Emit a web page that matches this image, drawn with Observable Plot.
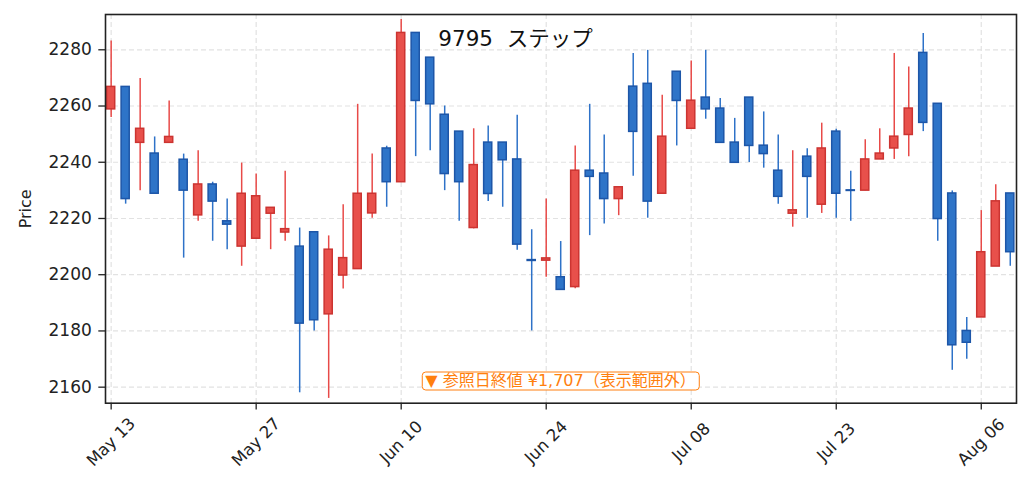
<!DOCTYPE html>
<html>
<head>
<meta charset="utf-8">
<script src="https://cdn.jsdelivr.net/npm/d3@7"></script>
<script src="https://cdn.jsdelivr.net/npm/@observablehq/plot@0.6"></script>
<style>
  html, body { margin: 0; padding: 0; background: #fff; }
  #wrap { position: relative; width: 1031px; height: 492px; font-family: "DejaVu Sans", "Noto Sans CJK JP", sans-serif; }
  #title { position: absolute; left: 515.5px; top: 39px; transform: translate(-50%, -50%); font-size: 21.5px; line-height: 1; color: #111; white-space: pre; }
  #note { position: absolute; left: 560.5px; top: 380.5px; transform: translate(-50%, -50%); font-size: 16px; line-height: 16px; color: #ff7f0e; background: #fff; border: 1.5px solid #ff7f0e; border-radius: 4px; padding: 0.5px 3px; white-space: pre; }
</style>
</head>
<body>
<div id="wrap">
  <div id="chart"></div>
  <div id="title">9795  ステップ</div>
  <div id="note">▼ 参照日終値 ¥1,707（表示範囲外）</div>
</div>
<script>
// Trading days shown (index-based x axis)
const dates = [
  "2024-05-13","2024-05-14","2024-05-15","2024-05-16","2024-05-17",
  "2024-05-20","2024-05-21","2024-05-22","2024-05-23","2024-05-24",
  "2024-05-27","2024-05-28","2024-05-29","2024-05-30","2024-05-31",
  "2024-06-03","2024-06-04","2024-06-05","2024-06-06","2024-06-07",
  "2024-06-10","2024-06-11","2024-06-12","2024-06-13","2024-06-14",
  "2024-06-17","2024-06-18","2024-06-19","2024-06-20","2024-06-21",
  "2024-06-24","2024-06-25","2024-06-26","2024-06-27","2024-06-28",
  "2024-07-01","2024-07-02","2024-07-03","2024-07-04","2024-07-05",
  "2024-07-08","2024-07-09","2024-07-10","2024-07-11","2024-07-12",
  "2024-07-16","2024-07-17","2024-07-18","2024-07-19",
  "2024-07-22","2024-07-23","2024-07-24","2024-07-25","2024-07-26",
  "2024-07-29","2024-07-30","2024-07-31","2024-08-01","2024-08-02",
  "2024-08-05","2024-08-06","2024-08-07","2024-08-08"
];
const open = [
  2258.8,2266.8,2246.9,2243.1,2246.9, 2240.9,2221.1,2232.1,2219.0,2210.0,
  2212.8,2221.7,2215.0,2210.0,2215.1, 2185.9,2199.7,2202.0,2221.8,2244.9,
  2232.9,2286.0,2277.2,2256.9,2250.9, 2216.6,2247.0,2247.0,2241.0,2205.2,
  2205.0,2199.1,2195.6,2237.0,2236.0, 2226.9,2266.9,2267.9,2228.8,2272.2,
  2251.9,2263.0,2259.1,2247.0,2263.0, 2245.9,2237.0,2221.7,2242.0,2224.9,
  2250.9,2230.0,2229.9,2241.0,2244.9, 2249.7,2278.9,2260.8,2228.9,2180.0,
  2184.8,2202.9,2228.9
];
const high = [
  2283.1,2266.8,2269.8,2249.0,2261.8, 2242.9,2244.1,2232.9,2226.9,2239.7,
  2235.8,2223.8,2236.8,2216.6,2215.1, 2213.8,2224.9,2260.6,2242.9,2245.7,
  2290.8,2286.0,2277.2,2260.0,2250.9, 2251.9,2252.9,2247.0,2256.7,2216.0,
  2226.9,2211.8,2245.8,2260.6,2249.7, 2231.1,2278.7,2279.8,2263.8,2272.2,
  2276.0,2279.8,2262.7,2255.6,2263.0, 2257.9,2249.7,2244.1,2244.8,2253.9,
  2251.7,2236.8,2248.0,2251.9,2278.7, 2273.9,2285.8,2260.8,2229.8,2184.8,
  2222.8,2232.0,2228.9
];
const low = [
  2255.9,2225.1,2229.9,2228.8,2246.9, 2205.9,2219.0,2211.9,2208.9,2203.0,
  2212.8,2208.9,2211.9,2158.0,2180.0, 2156.0,2194.9,2202.0,2220.1,2224.0,
  2232.9,2242.0,2244.1,2229.9,2219.0, 2216.3,2226.0,2224.0,2208.7,2180.0,
  2199.1,2194.6,2195.0,2213.9,2218.0, 2221.0,2235.0,2220.1,2228.8,2245.8,
  2251.9,2255.3,2246.9,2239.8,2239.9, 2237.9,2225.1,2216.9,2220.1,2221.8,
  2220.1,2219.0,2229.9,2241.0,2241.0, 2242.0,2250.9,2211.9,2166.0,2169.9,
  2184.8,2202.9,2203.0
];
const close = [
  2266.8,2226.9,2251.9,2228.8,2249.0, 2229.9,2232.1,2226.0,2217.8,2228.8,
  2227.9,2223.8,2216.2,2182.6,2183.8, 2208.9,2205.9,2228.8,2228.8,2232.9,
  2286.0,2261.8,2260.6,2235.8,2232.9, 2239.0,2228.7,2240.7,2210.7,2204.9,
  2205.8,2194.6,2237.0,2234.8,2226.9, 2231.1,2250.8,2226.0,2249.1,2261.8,
  2261.9,2258.8,2246.9,2239.8,2245.8, 2242.9,2227.7,2222.9,2234.8,2244.9,
  2228.8,2229.8,2241.0,2243.1,2249.1, 2259.1,2254.0,2219.8,2174.9,2175.8,
  2208.0,2226.1,2208.0
];
const yTicks = [2160, 2180, 2200, 2220, 2240, 2260, 2280];
const xTickIdx = [0, 10, 20, 30, 40, 50, 60];

const upFill = "#e8504b", upStroke = "#cc3431", upWick = "#e84a48";
const dnFill = "#2e74c8", dnStroke = "#1d56a8", dnWick = "#2e72c8";

const parse = d3.utcParse("%Y-%m-%d");
const fmt = d3.utcFormat("%b %d");
const data = dates.map((d, i) => ({
  i, date: parse(d), open: open[i], high: high[i], low: low[i], close: close[i],
  up: close[i] >= open[i]
}));

const chart = Plot.plot({
  width: 1031,
  height: 492,
  marginLeft: 105,
  marginRight: 15,
  marginTop: 14,
  marginBottom: 89.3,
  x: { type: "linear", domain: [-0.39, 62.43], axis: null },
  y: { domain: [2154.3, 2292.55], axis: null },
  color: { type: "identity" },
  style: { fontFamily: '"DejaVu Sans", "Noto Sans CJK JP", sans-serif', fontSize: "17px", color: "#222", background: "#fff", overflow: "visible" },
  marks: [
    Plot.gridY(yTicks, { stroke: "#e2e2e2", strokeOpacity: 1, strokeWidth: 1.2, strokeDasharray: "5,3" }),
    Plot.gridX(xTickIdx, { stroke: "#e2e2e2", strokeOpacity: 1, strokeWidth: 1.2, strokeDasharray: "5,3" }),
    Plot.ruleX(data, { x: "i", y1: "low", y2: "high", stroke: d => d.up ? upWick : dnWick, strokeWidth: 1.5 }),
    Plot.rect(data, {
      x1: d => d.i - 0.28, x2: d => d.i + 0.28,
      y1: "open", y2: "close",
      fill: d => d.up ? upFill : dnFill,
      stroke: d => d.up ? upStroke : dnStroke,
      strokeWidth: 1.5
    }),
    Plot.axisY(yTicks, { tickSize: 6.7, tickPadding: 7, tickFormat: d3.format("d"), label: null, stroke: "#222", strokeWidth: 1.3, fontSize: 17 }),
    Plot.axisX(xTickIdx, { tickSize: 6.7, tickFormat: () => "", label: null, stroke: "#222", strokeWidth: 1.3 }),
    Plot.text(xTickIdx, { x: d => d, text: d => fmt(data[d].date), frameAnchor: "bottom", dy: 39, rotate: -45, textAnchor: "middle", lineAnchor: "middle", fontSize: 16.5, fill: "#222" }),
    Plot.text(["Price"], { frameAnchor: "left", dx: -80, rotate: -90, textAnchor: "middle", lineAnchor: "middle", fontSize: 16, fill: "#222" }),
    Plot.frame({ stroke: "#222", strokeWidth: 1.6 })
  ]
});
document.getElementById("chart").appendChild(chart);
</script>
</body>
</html>
